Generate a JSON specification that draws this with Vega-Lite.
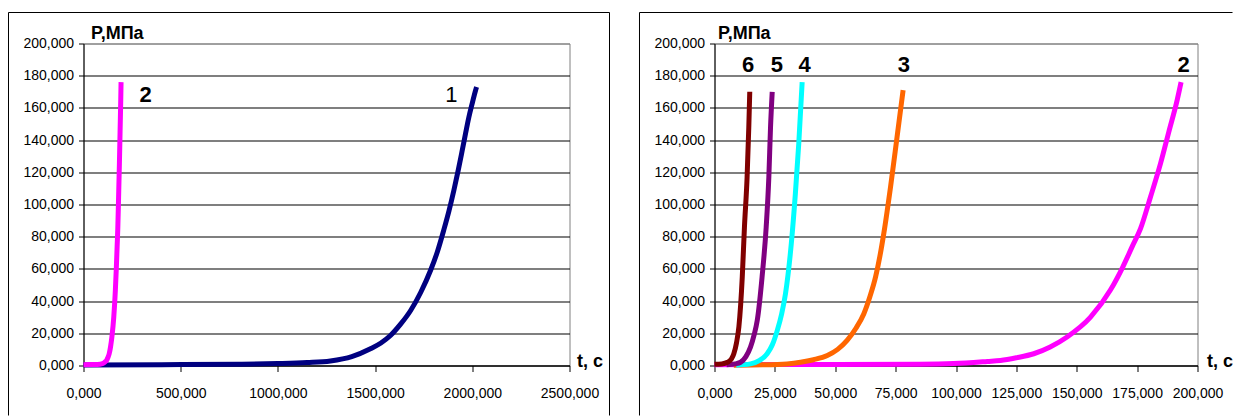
{
  "$schema": "https://vega.github.io/schema/vega-lite/v6.json",
  "autosize": {"type": "pad"},
  "padding": {"left": 7.5, "top": 11.5, "right": 0, "bottom": 0},
  "background": "white",
  "bounds": "flush",
  "spacing": 145,
  "config": {
    "font": "Liberation Sans",
    "view": {"stroke": "#808080", "strokeWidth": 1},
    "axis": {
      "domainColor": "#000",
      "domainWidth": 1,
      "tickColor": "#000",
      "tickCount": 20,
      "labelFont": "Liberation Sans",
      "labelFontSize": 14,
      "labelColor": "#000",
      "labelFlush": false,
      "labelOverlap": false,
      "labelExpr": "replace(format(datum.value, '.3f'), '.', ',')",
      "titleFont": "Liberation Sans",
      "titleFontSize": 18,
      "titleFontWeight": "bold",
      "titleColor": "#000",
      "titleAngle": 0,
      "titleAlign": "left",
      "titleBaseline": "alphabetic"
    },
    "axisX": {"grid": false, "tickSize": 6, "labelPadding": 15, "titleY": 1},
    "axisY": {"grid": true, "gridWidth": 1.2, "tickSize": 5, "labelPadding": 5, "titleY": -5}
  },
  "datasets": {
    "curves": [
      {"s": "1", "t": 0, "P": 0.3},
      {"s": "1", "t": 400, "P": 0.5},
      {"s": "1", "t": 800, "P": 0.8},
      {"s": "1", "t": 1000, "P": 1.2},
      {"s": "1", "t": 1150, "P": 1.8},
      {"s": "1", "t": 1270, "P": 2.8},
      {"s": "1", "t": 1380, "P": 5.5},
      {"s": "1", "t": 1476, "P": 10.4},
      {"s": "1", "t": 1530, "P": 14},
      {"s": "1", "t": 1579, "P": 18.6},
      {"s": "1", "t": 1630, "P": 25.5},
      {"s": "1", "t": 1682, "P": 34},
      {"s": "1", "t": 1735, "P": 45.5},
      {"s": "1", "t": 1785, "P": 59},
      {"s": "1", "t": 1820, "P": 70.5},
      {"s": "1", "t": 1853, "P": 84},
      {"s": "1", "t": 1880, "P": 96},
      {"s": "1", "t": 1905, "P": 108.7},
      {"s": "1", "t": 1928, "P": 121.5},
      {"s": "1", "t": 1948, "P": 133.5},
      {"s": "1", "t": 1966, "P": 144.5},
      {"s": "1", "t": 1982, "P": 154},
      {"s": "1", "t": 2000, "P": 163},
      {"s": "1", "t": 2017, "P": 171},
      {"s": "1", "t": 2022, "P": 173},

      {"s": "2", "t": 0, "P": 0.5},
      {"s": "2", "t": 40, "P": 0.6},
      {"s": "2", "t": 85, "P": 0.8},
      {"s": "2", "t": 99, "P": 1.2},
      {"s": "2", "t": 113, "P": 2.5},
      {"s": "2", "t": 118.4, "P": 3.1},
      {"s": "2", "t": 125, "P": 4.8},
      {"s": "2", "t": 132.2, "P": 7.3},
      {"s": "2", "t": 139, "P": 11.5},
      {"s": "2", "t": 146, "P": 17.7},
      {"s": "2", "t": 155.7, "P": 30},
      {"s": "2", "t": 164, "P": 47},
      {"s": "2", "t": 169, "P": 61},
      {"s": "2", "t": 173, "P": 74},
      {"s": "2", "t": 176.4, "P": 85},
      {"s": "2", "t": 180.5, "P": 104.5},
      {"s": "2", "t": 184.7, "P": 125.5},
      {"s": "2", "t": 188.1, "P": 145},
      {"s": "2", "t": 191.6, "P": 165},
      {"s": "2", "t": 193.2, "P": 176},

      {"s": "3", "t": 8, "P": 0.2},
      {"s": "3", "t": 20, "P": 0.4},
      {"s": "3", "t": 30, "P": 1},
      {"s": "3", "t": 35.6, "P": 2},
      {"s": "3", "t": 41, "P": 3.6},
      {"s": "3", "t": 46.7, "P": 6.2},
      {"s": "3", "t": 51, "P": 10},
      {"s": "3", "t": 54.9, "P": 15.6},
      {"s": "3", "t": 58.5, "P": 23},
      {"s": "3", "t": 61.8, "P": 32},
      {"s": "3", "t": 64.4, "P": 43},
      {"s": "3", "t": 66.7, "P": 55},
      {"s": "3", "t": 68.5, "P": 68},
      {"s": "3", "t": 70.1, "P": 82},
      {"s": "3", "t": 72.9, "P": 111},
      {"s": "3", "t": 75.6, "P": 142},
      {"s": "3", "t": 78.1, "P": 171},

      {"s": "4", "t": 9, "P": 0.2},
      {"s": "4", "t": 14.9, "P": 1},
      {"s": "4", "t": 18.5, "P": 3},
      {"s": "4", "t": 21.8, "P": 7.3},
      {"s": "4", "t": 24, "P": 13},
      {"s": "4", "t": 26, "P": 21.8},
      {"s": "4", "t": 27.8, "P": 32},
      {"s": "4", "t": 29.4, "P": 44.6},
      {"s": "4", "t": 31.8, "P": 75.7},
      {"s": "4", "t": 33.5, "P": 107},
      {"s": "4", "t": 34.9, "P": 138},
      {"s": "4", "t": 36.3, "P": 176},

      {"s": "5", "t": 5, "P": 0.4},
      {"s": "5", "t": 8.5, "P": 1},
      {"s": "5", "t": 10.8, "P": 2},
      {"s": "5", "t": 13, "P": 5.5},
      {"s": "5", "t": 14.9, "P": 11.4},
      {"s": "5", "t": 16.4, "P": 19},
      {"s": "5", "t": 17.7, "P": 28},
      {"s": "5", "t": 19.7, "P": 55},
      {"s": "5", "t": 21.4, "P": 86},
      {"s": "5", "t": 22.5, "P": 117},
      {"s": "5", "t": 23.2, "P": 148},
      {"s": "5", "t": 23.9, "P": 170},

      {"s": "6", "t": 0, "P": 0.8},
      {"s": "6", "t": 3, "P": 1},
      {"s": "6", "t": 5.4, "P": 2},
      {"s": "6", "t": 7, "P": 4},
      {"s": "6", "t": 8, "P": 7.3},
      {"s": "6", "t": 9.1, "P": 14},
      {"s": "6", "t": 10.1, "P": 24},
      {"s": "6", "t": 11.5, "P": 55},
      {"s": "6", "t": 12.4, "P": 86},
      {"s": "6", "t": 13.5, "P": 117},
      {"s": "6", "t": 14.2, "P": 148},
      {"s": "6", "t": 14.6, "P": 170}
    ],
    "labels": [
      {"panel": "A", "label": "2", "t": 319, "P": 163.5},
      {"panel": "A", "label": "1", "t": 1893, "P": 163.5},
      {"panel": "B", "label": "6", "t": 13.9, "P": 182.2},
      {"panel": "B", "label": "5", "t": 25.8, "P": 182.2},
      {"panel": "B", "label": "4", "t": 37.3, "P": 182.2},
      {"panel": "B", "label": "3", "t": 78.4, "P": 182.2},
      {"panel": "B", "label": "2", "t": 194.3, "P": 182.2}
    ]
  },
  "hconcat": [
    {
      "width": 486,
      "height": 322,
      "layer": [
        {
          "data": {"name": "curves"},
          "transform": [{"filter": "datum.s == '1' || datum.s == '2'"}],
          "mark": {"type": "line", "strokeWidth": 5, "interpolate": "monotone", "strokeJoin": "round"},
          "encoding": {
            "x": {
              "field": "t", "type": "quantitative",
              "scale": {"domain": [0, 2500], "nice": false},
              "axis": {"values": [0, 500, 1000, 1500, 2000, 2500], "title": "t, c", "titleX": 493}
            },
            "y": {
              "field": "P", "type": "quantitative",
              "scale": {"domain": [0, 200], "nice": false},
              "axis": {
                "values": [0, 20, 40, 60, 80, 100, 120, 140, 160, 180, 200],
                "title": "P,МПа", "titleX": 7,
                "gridColor": {"condition": {"test": "datum.value >= 200", "value": "#808080"}, "value": "#000"}
              }
            },
            "color": {
              "field": "s", "type": "nominal", "legend": null,
              "scale": {"domain": ["1", "2", "3", "4", "5", "6"], "range": ["#000080", "#FF00FF", "#FF6600", "#00FFFF", "#800080", "#800000"]}
            }
          }
        },
        {
          "data": {"name": "labels"},
          "transform": [{"filter": "datum.panel == 'A' && datum.label == '2'"}],
          "mark": {"type": "text", "fontSize": 22, "fontWeight": "bold", "color": "#000", "align": "center", "baseline": "alphabetic"},
          "encoding": {
            "x": {"field": "t", "type": "quantitative"},
            "y": {"field": "P", "type": "quantitative"},
            "text": {"field": "label"}
          }
        },
        {
          "data": {"name": "labels"},
          "transform": [{"filter": "datum.panel == 'A' && datum.label == '1'"}],
          "mark": {"type": "text", "fontSize": 22, "fontWeight": "normal", "color": "#000", "align": "center", "baseline": "alphabetic"},
          "encoding": {
            "x": {"field": "t", "type": "quantitative"},
            "y": {"field": "P", "type": "quantitative"},
            "text": {"field": "label"}
          }
        },
        {
          "data": {"values": [{}]},
          "mark": {"type": "rule", "color": "#000", "strokeWidth": 1},
          "encoding": {
            "x": {"datum": -385.8, "type": "quantitative"},
            "x2": {"datum": 2705.8},
            "y": {"datum": 219.25, "type": "quantitative"}
          }
        },
        {
          "data": {"values": [{}]},
          "mark": {"type": "rule", "color": "#000", "strokeWidth": 1},
          "encoding": {
            "x": {"datum": -385.8, "type": "quantitative"},
            "y": {"datum": 219.25, "type": "quantitative"},
            "y2": {"datum": -31.06}
          }
        },
        {
          "data": {"values": [{}]},
          "mark": {"type": "rule", "color": "#000", "strokeWidth": 1},
          "encoding": {
            "x": {"datum": 2705.8, "type": "quantitative"},
            "y": {"datum": 219.25, "type": "quantitative"},
            "y2": {"datum": -31.06}
          }
        }
      ]
    },
    {
      "width": 483,
      "height": 322,
      "layer": [
        {
          "data": {"name": "curves"},
          "transform": [{"filter": "datum.s != '1'"}],
          "mark": {"type": "line", "strokeWidth": 5, "interpolate": "monotone", "strokeJoin": "round"},
          "encoding": {
            "x": {
              "field": "t", "type": "quantitative",
              "scale": {"domain": [0, 200], "nice": false},
              "axis": {"values": [0, 25, 50, 75, 100, 125, 150, 175, 200], "title": "t, c", "titleX": 492}
            },
            "y": {
              "field": "P", "type": "quantitative",
              "scale": {"domain": [0, 200], "nice": false},
              "axis": {
                "values": [0, 20, 40, 60, 80, 100, 120, 140, 160, 180, 200],
                "title": "P,МПа", "titleX": 3,
                "gridColor": {"condition": {"test": "datum.value >= 200", "value": "#808080"}, "value": "#000"}
              }
            },
            "color": {
              "field": "s", "type": "nominal", "legend": null,
              "scale": {"domain": ["1", "2", "3", "4", "5", "6"], "range": ["#000080", "#FF00FF", "#FF6600", "#00FFFF", "#800080", "#800000"]}
            }
          }
        },
        {
          "data": {"name": "labels"},
          "transform": [{"filter": "datum.panel == 'B'"}],
          "mark": {"type": "text", "fontSize": 22, "fontWeight": "bold", "color": "#000", "align": "center", "baseline": "alphabetic"},
          "encoding": {
            "x": {"field": "t", "type": "quantitative"},
            "y": {"field": "P", "type": "quantitative"},
            "text": {"field": "label"}
          }
        },
        {
          "data": {"values": [{}]},
          "mark": {"type": "rule", "color": "#000", "strokeWidth": 1},
          "encoding": {
            "x": {"datum": -31.06, "type": "quantitative"},
            "x2": {"datum": 214.5},
            "y": {"datum": 219.25, "type": "quantitative"}
          }
        },
        {
          "data": {"values": [{}]},
          "mark": {"type": "rule", "color": "#000", "strokeWidth": 1},
          "encoding": {
            "x": {"datum": -31.06, "type": "quantitative"},
            "y": {"datum": 219.25, "type": "quantitative"},
            "y2": {"datum": -31.06}
          }
        }
      ]
    }
  ]
}
